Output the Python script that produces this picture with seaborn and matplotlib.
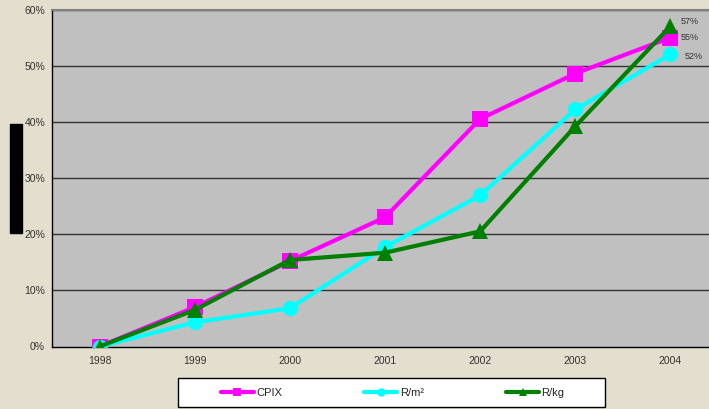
import numpy as np
import pandas as pd
import matplotlib
matplotlib.use('Agg')
import matplotlib.pyplot as plt
import seaborn as sns
from matplotlib.patches import Rectangle
from matplotlib.ticker import FuncFormatter, FixedLocator

# Data (percent change since 1998)
years = ['1998', '1999', '2000', '2001', '2002', '2003', '2004']
cpix = [0, 7.0, 15.2, 23.0, 40.5, 48.6, 55]
r_m2 = [0, 4.3, 6.8, 17.7, 26.9, 42.2, 52]
r_kg = [0, 6.5, 15.4, 16.7, 20.5, 39.2, 57]
series_names = ['CPIX', 'R/m²', 'R/kg']
end_labels = ['57%', '55%', '52%']

colors = {'CPIX': '#FF00FF', 'R/m²': '#00FFFF', 'R/kg': '#008000'}
markers = {'CPIX': 's', 'R/m²': 'o', 'R/kg': '^'}

df = pd.DataFrame({
    'pos': list(range(len(years))) * 3,
    'value': cpix + r_m2 + r_kg,
    'series': [s for s in series_names for _ in years],
})

sns.set_style('white')
plt.rcParams['font.family'] = ['Liberation Sans', 'DejaVu Sans']

fig = plt.figure(figsize=(7.09, 4.09), dpi=100)
fig.patch.set_facecolor('#E3DECD')
ax = fig.add_axes([52 / 709, 1 - 346.5 / 409, 666 / 709, 337 / 409])
ax.set_facecolor('#C0C0C0')

for y in range(10, 61, 10):
    ax.axhline(y, color='#333333', lw=1.0, zorder=1)

sns.lineplot(data=df, x='pos', y='value', hue='series', style='series',
             palette=colors, markers=markers, dashes=False, linewidth=3,
             markersize=11, markeredgewidth=0, hue_order=series_names,
             style_order=series_names, ax=ax, zorder=3, legend=False)

ax.set_xlim(-0.5, 6.5)
ax.set_ylim(0, 60)
ax.set_xlabel('')
ax.set_ylabel('')
ax.yaxis.set_major_locator(FixedLocator(range(0, 61, 10)))
ax.yaxis.set_major_formatter(FuncFormatter(lambda v, p: f'{int(v)}%'))
ax.set_xticks(np.arange(-0.5, 7, 1))
ax.set_xticklabels([])
ax.set_xticks(range(len(years)), minor=True)
ax.set_xticklabels(years, minor=True)
ax.tick_params(axis='x', which='major', length=3, direction='out', color='black')
ax.tick_params(axis='x', which='minor', length=0, pad=7, labelsize=7.5, labelcolor='#333333')
ax.tick_params(axis='y', length=4, direction='out', color='black', labelsize=7.5,
               labelcolor='#333333', pad=1)

for side in ['left', 'bottom']:
    ax.spines[side].set_color('black')
    ax.spines[side].set_linewidth(1)
ax.spines['top'].set_color('#808080')
ax.spines['top'].set_linewidth(1.5)
ax.spines['right'].set_visible(False)

# end-of-series labels
label_y = [57.8, 55.0, 51.6]
for lbl, yv in zip(end_labels, label_y):
    dx = 0.15 if lbl == '52%' else 0.11
    ax.text(6 + dx, yv, lbl, fontsize=6.5, color='#333333', va='center', ha='left')

# redacted axis title block
fig.patches.append(Rectangle((10 / 709, 1 - 233 / 409), 12 / 709, 109 / 409,
                             transform=fig.transFigure, color='black', zorder=5))

# legend box drawn separately, entries centred inside
fig.patches.append(Rectangle((178 / 709, 1 - 407 / 409), 427 / 709, 29 / 409,
                             transform=fig.transFigure, facecolor='white',
                             edgecolor='black', lw=1, zorder=4))
handles = [plt.Line2D([], [], color=colors[s], marker=markers[s], lw=3,
                      markersize=6, markeredgewidth=0) for s in series_names]
leg = fig.legend(handles, series_names, loc='center',
                 bbox_to_anchor=(392.5 / 709, 1 - 392.5 / 409),
                 ncol=3, frameon=False, fontsize=8, handlelength=3,
                 handletextpad=0.2, columnspacing=7.4, borderaxespad=0)
leg.set_zorder(6)

fig.savefig('out.png', dpi=100, facecolor=fig.get_facecolor())
